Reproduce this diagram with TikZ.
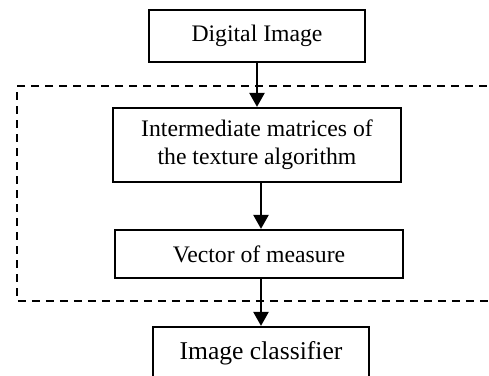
\documentclass[tikz,border=0pt]{standalone}
\usepackage{fontspec}
\setmainfont{Liberation Serif}
\usetikzlibrary{arrows.meta}
\begin{document}
\begin{tikzpicture}[x=0.5pt,y=-0.5pt,
  box/.style={draw,line width=1.1pt,inner sep=0pt,align=center,
    font=\fontsize{11.85}{14}\selectfont},
  flow/.style={line width=1.2pt,-{Triangle[length=7pt,width=7.5pt]}},
  grp/.style={draw,line width=1pt,dash pattern=on 4pt off 3pt}]
\useasboundingbox (0,0) rectangle (489,376);
\clip (0,0) rectangle (489,376);
\draw[grp] (515,86) -- (17,86) -- (17,301) -- (515,301);
\node[box,minimum width=108pt,minimum height=26pt] (dig) at (257,36) {Digital Image};
\node[box,minimum width=144pt,minimum height=37pt] (inter) at (257,145)
  {Intermediate matrices of\\the texture algorithm};
\node[box,minimum width=144pt,minimum height=24pt] (vec) at (259,254) {Vector of measure};
\node[box,minimum width=108pt,minimum height=26pt,font=\fontsize{12.8}{15}\selectfont] (cls) at (261,353) {Image classifier};
\draw[flow] (dig.south) -- (inter.north);
\draw[flow] (inter.south -| cls.north) -- (vec.north -| cls.north);
\draw[flow] (vec.south -| cls.north) -- (cls.north);
\end{tikzpicture}
\end{document}
